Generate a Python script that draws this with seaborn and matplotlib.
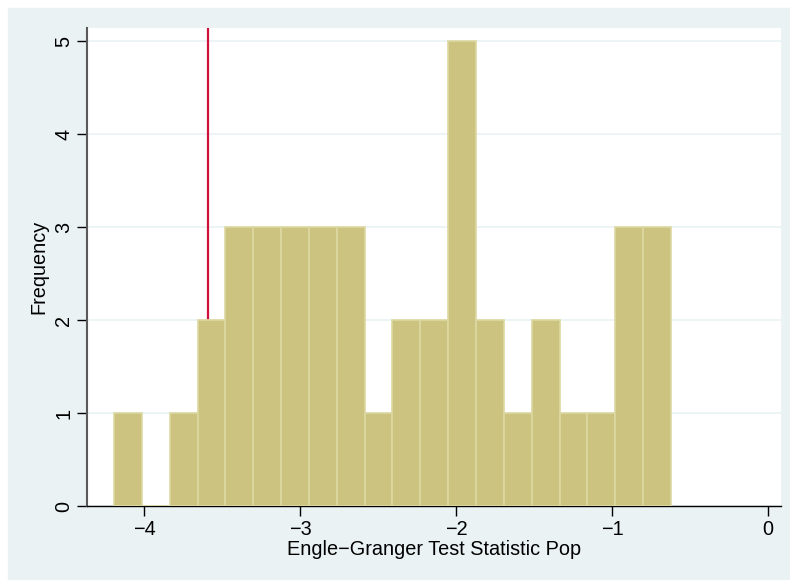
import numpy as np
import pandas as pd
import matplotlib
matplotlib.use("Agg")
import matplotlib.pyplot as plt
import seaborn as sns
from matplotlib.patches import Rectangle

# histogram: 20 bins, width ~0.1785
bin_start = -4.192
bin_width = 0.1785
counts = [1, 0, 1, 2, 3, 3, 3, 3, 3, 1, 2, 2, 5, 2, 1, 2, 1, 1, 3, 3]
crit_value = -3.59
x_ticks = [-4, -3, -2, -1, 0]
y_ticks = [0, 1, 2, 3, 4, 5]

edges = bin_start + bin_width * np.arange(len(counts) + 1)
centers = (edges[:-1] + edges[1:]) / 2
df = pd.DataFrame({"stat": centers, "n": counts})

sns.set_style("white")
plt.rcParams["font.family"] = ["Liberation Sans", "DejaVu Sans"]
plt.rcParams["text.color"] = "black"
plt.rcParams["axes.labelcolor"] = "black"
plt.rcParams["xtick.color"] = "black"
plt.rcParams["ytick.color"] = "black"

fig = plt.figure(figsize=(7.9, 5.8), dpi=100)
fig.patch.set_facecolor("white")
fig.patches.append(Rectangle((8 / 790, 0), 1 - 8 / 790, 1 - 8 / 580,
                             transform=fig.transFigure, color="#EAF2F3", zorder=-10))
ax = fig.add_axes([87 / 790, 74 / 580, 694 / 790, 478 / 580])
ax.set_facecolor("white")

sns.histplot(data=df, x="stat", weights="n", bins=edges.tolist(), ax=ax,
             color="#CBC37F", alpha=1, edgecolor="#DDD8A2", linewidth=1.2, zorder=3)

ax.axvline(crit_value, color="#D0103A", linewidth=1.6, zorder=2)

ax.set_xlim(-4.365, 0.083)
ax.set_ylim(0, 5.14)
ax.set_xticks(x_ticks)
ax.set_xticklabels([str(t).replace("-", "\u2212") for t in x_ticks])
ax.set_yticks(y_ticks)
ax.set_yticklabels([str(t) for t in y_ticks], rotation=90, va="center")
ax.grid(axis="y", color="#EAF2F3", linewidth=1.2, zorder=0)
ax.set_axisbelow(True)

for s in ["top", "right"]:
    ax.spines[s].set_visible(False)
ax.spines["left"].set_color("#5a5a5a")
ax.spines["left"].set_linewidth(1.5)
ax.spines["bottom"].set_color("black")
ax.spines["bottom"].set_linewidth(1.0)
ax.tick_params(axis="x", bottom=True, length=7, width=1, color="black",
               labelcolor="black", labelsize=14.3, pad=3)
ax.tick_params(axis="y", left=True, length=7, width=1, color="black",
               labelcolor="black", labelsize=14.3, pad=3)

ax.set_xlabel("Engle\u2212Granger Test Statistic Pop", fontsize=14.3, labelpad=1)
ax.set_ylabel("Frequency", fontsize=14.3, labelpad=4)

fig.savefig("out.png", dpi=100)
